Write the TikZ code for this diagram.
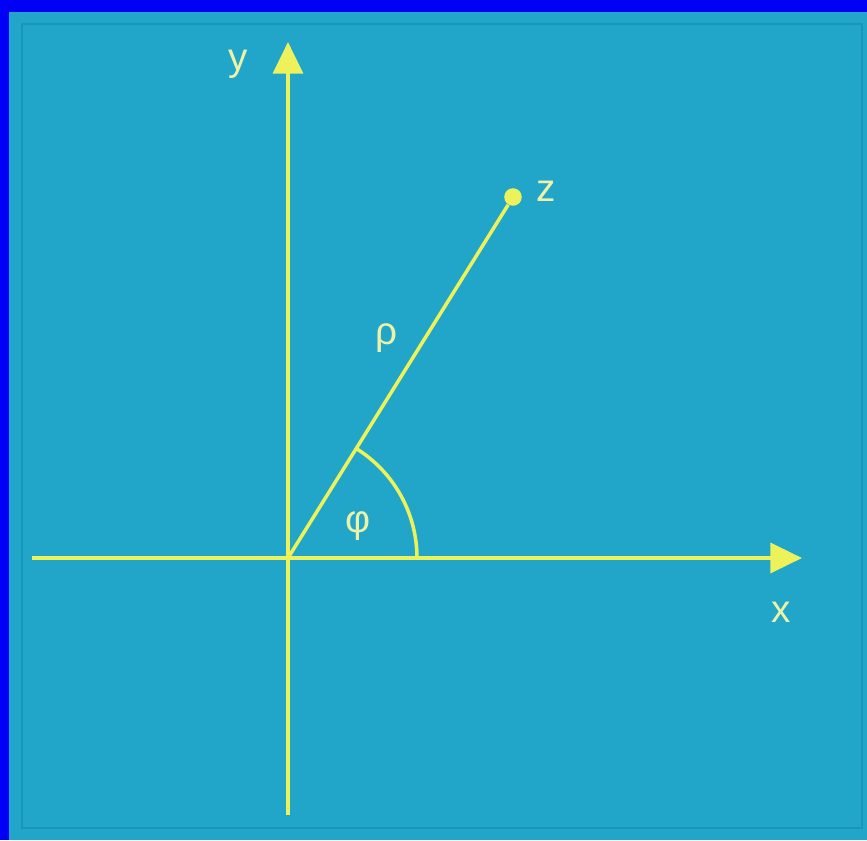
\documentclass[tikz,border=0pt]{standalone}
\usepackage{fontspec}
\setmainfont{Liberation Sans}
\usetikzlibrary{positioning, arrows.meta, calc}
\definecolor{cFrame}{HTML}{0000F6}
\definecolor{cSea}{HTML}{21A5C8}
\definecolor{cRim}{HTML}{1896BA}
\definecolor{cAxis}{HTML}{EEF25A}
\definecolor{cLabel}{HTML}{EEF2A8}
\tikzset{
  axis/.style={
    -{Triangle[length=18pt,width=17pt]},
    line width=2.2pt,
    draw=cAxis
  },
  rayline/.style={
    line width=2pt,
    draw=cAxis
  },
  label/.style={
    text=cLabel,
    font=\fontsize{22}{26}\selectfont,
    inner sep=0pt
  },
  point/.style={
    circle,
    fill=cAxis,
    inner sep=0pt,
    minimum size=10pt
  }
}

\begin{document}
\begin{tikzpicture}[x=0.02cm, y=-0.02cm]
  \useasboundingbox (0,0) rectangle (867,840);
  \fill[cFrame] (0,0) rectangle (867,840);
  \fill[cSea] (9,12) rectangle (867,840);
  \draw[cRim, line width=1pt] (22,24) rectangle (862,828);

  % axes
  \coordinate (O) at (288,558);
  \coordinate (ybot) at (288,815);
  \coordinate (ytop) at (288,42);
  \coordinate (xleft) at (32,558);
  \coordinate (xright) at (802,558);
  \draw[axis] (ybot) -- (ytop);
  \draw[axis] (xleft) -- (xright);
  \node[label] (ylab) at (238,64) {y};
  \node[label] (xlab) at (781,612) {x};

  % point z
  \node[point] (z) at (513,197) {};
  \node[label, right=8pt of z, yshift=3pt] (zlab) {z};
  \draw[rayline] (O) -- (z);
  \node[label] (rho) at (386,338) {ρ};

  % angle (y runs downward here)
  \draw[rayline] (417,558) arc[start angle=0, end angle=-58.1, radius=129];
  \node[label] (phi) at (358,526) {φ};
\end{tikzpicture}
\end{document}
